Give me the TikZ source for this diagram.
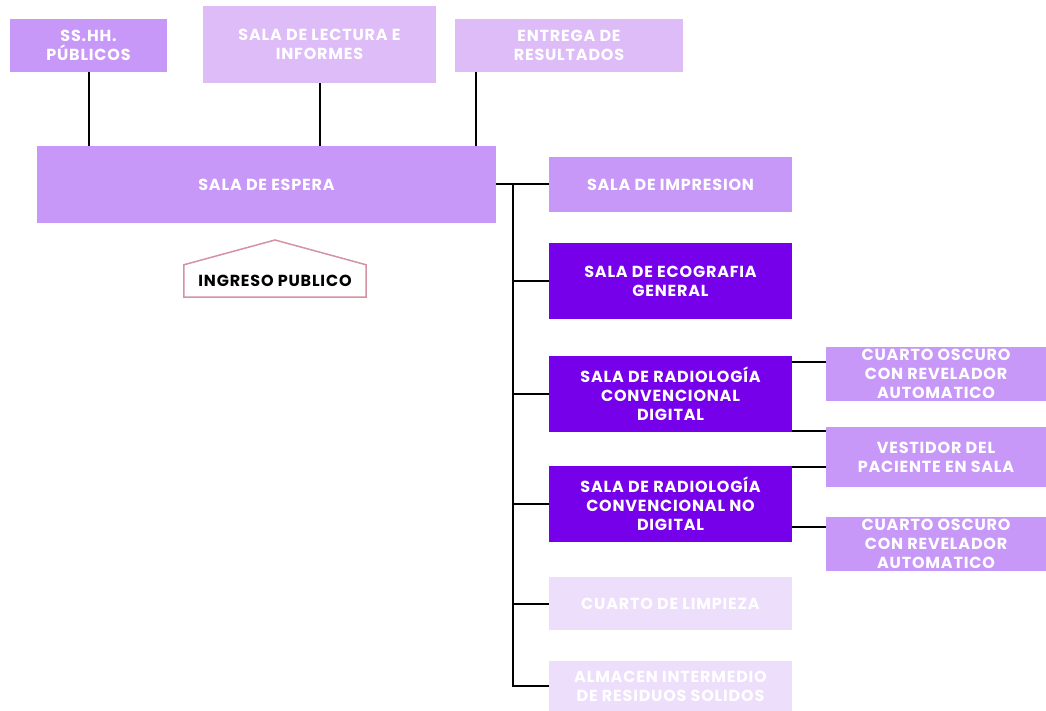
\documentclass[tikz,border=0pt]{standalone}
\usepackage{fontspec}
\setmainfont{Poppins}[LetterSpace=5]
\definecolor{med}{RGB}{200,152,248}
\definecolor{lite}{RGB}{221,188,247}
\definecolor{vlite}{RGB}{237,222,251}
\definecolor{dark}{RGB}{119,0,234}
\definecolor{pinkline}{RGB}{212,146,162}
\tikzset{
  box/.style={rectangle, inner sep=0pt, text=white, align=center,
    font=\fontsize{16}{19}\selectfont\bfseries},
  conn/.style={draw=black, line width=2pt},
}
\begin{document}
\begin{tikzpicture}[x=1pt,y=-1pt]
\useasboundingbox (0,0) rectangle (1046,711);
% top row
\node[box, fill=med, minimum width=157, minimum height=53] (ss) at (88.5,45.5) {SS.HH.\\PÚBLICOS};
\node[box, fill=lite, minimum width=233, minimum height=77] (lec) at (319.5,44.5) {SALA DE LECTURA E\\INFORMES};
\node[box, fill=lite, minimum width=228, minimum height=53] (ent) at (569,45.5) {ENTREGA DE\\RESULTADOS};
\node[box, fill=med, minimum width=459, minimum height=77] (esp) at (266.5,184.5) {SALA DE ESPERA};
% ingreso
\node[rectangle, inner sep=0pt, minimum width=182, minimum height=32, text=black,
  font=\fontsize{16}{17}\selectfont\bfseries] (ing) at (275,281) {INGRESO PUBLICO};
\coordinate (peak) at (275,240);
\draw[pinkline, line width=1.5pt] (ing.south west) -- (ing.north west) -- (peak) -- (ing.north east) -- (ing.south east) -- cycle;
% right column
\node[box, fill=med, minimum width=243, minimum height=55] (imp) at (670.5,184.5) {SALA DE IMPRESION};
\node[box, fill=dark, minimum width=243, minimum height=76] (eco) at (670.5,281) {SALA DE ECOGRAFIA\\GENERAL};
\node[box, fill=dark, minimum width=243, minimum height=76] (rd1) at (670.5,394) {SALA DE RADIOLOGÍA\\CONVENCIONAL\\DIGITAL};
\node[box, fill=dark, minimum width=243, minimum height=76] (rd2) at (670.5,504) {SALA DE RADIOLOGÍA\\CONVENCIONAL NO\\DIGITAL};
\node[box, fill=vlite, minimum width=243, minimum height=53] (lim) at (670.5,603.5) {CUARTO DE LIMPIEZA};
\node[box, fill=vlite, minimum width=243, minimum height=50] (alm) at (670.5,686) {ALMACEN INTERMEDIO\\DE RESIDUOS SOLIDOS};
% sub boxes
\node[box, fill=med, minimum width=220, minimum height=54] (co1) at (936,374) {CUARTO OSCURO\\CON REVELADOR\\AUTOMATICO};
\node[box, fill=med, minimum width=220, minimum height=60] (ves) at (936,457) {VESTIDOR DEL\\PACIENTE EN SALA};
\node[box, fill=med, minimum width=220, minimum height=54] (co2) at (936,544) {CUARTO OSCURO\\CON REVELADOR\\AUTOMATICO};
% top connectors
\draw[conn] (ss.south) -- (ss.south |- esp.north);
\draw[conn] (lec.south) -- (lec.south |- esp.north);
\coordinate (ex) at (476,0);
\draw[conn] (ex |- ent.south) -- (ex |- esp.north);
% trunk
\coordinate (tr) at (513,184.5);
\draw[conn] (esp.east) -- (imp.west);
\draw[conn] (tr) -- (tr |- alm.west) -- (alm.west);
\draw[conn] (tr |- eco.west) -- (eco.west);
\draw[conn] (tr |- rd1.west) -- (rd1.west);
\draw[conn] (tr |- rd2.west) -- (rd2.west);
\draw[conn] (tr |- lim.west) -- (lim.west);
% sub connectors
\coordinate (s1) at (792,362);
\coordinate (s2) at (792,431);
\coordinate (s3) at (792,467);
\coordinate (s4) at (792,527);
\draw[conn] (s1) -- (s1 -| co1.west);
\draw[conn] (s2) -- (s2 -| ves.west);
\draw[conn] (s3) -- (s3 -| ves.west);
\draw[conn] (s4) -- (s4 -| co2.west);
\end{tikzpicture}
\end{document}
